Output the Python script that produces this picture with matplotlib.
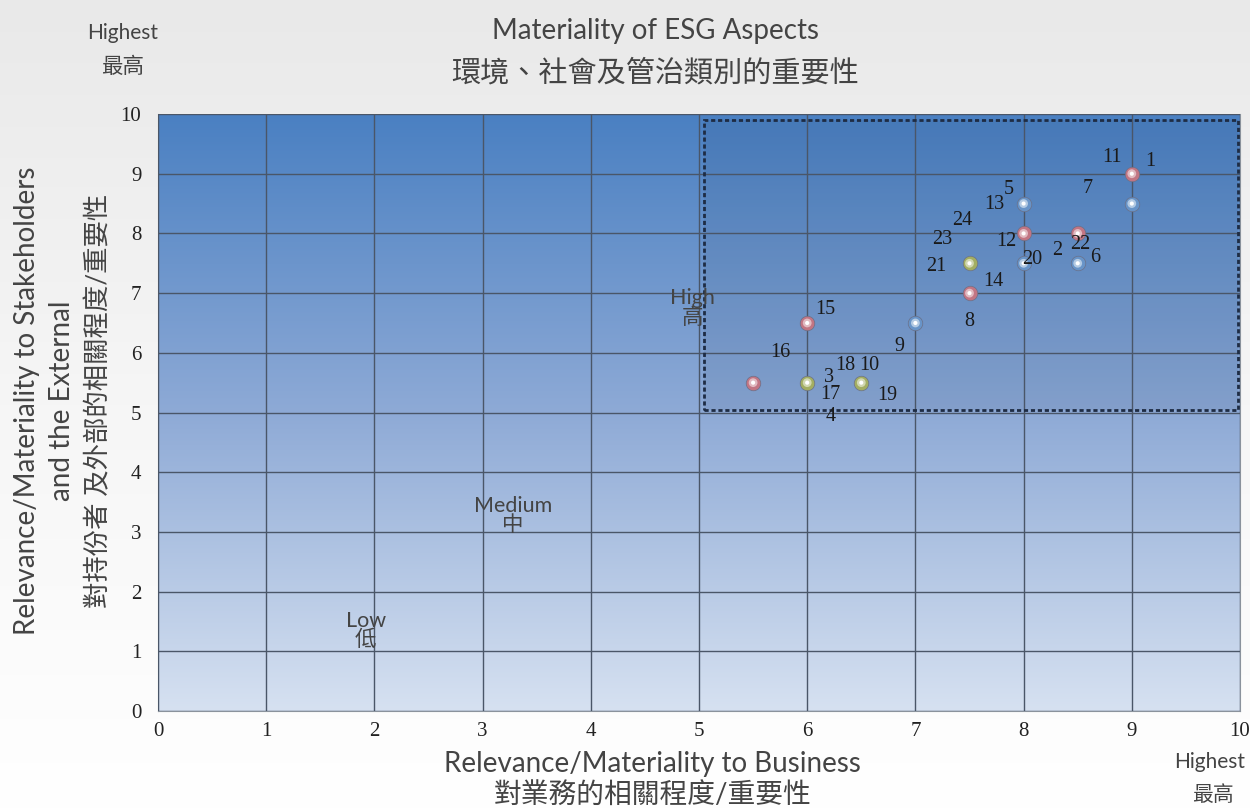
import numpy as np
import matplotlib.pyplot as plt
from matplotlib.colors import LinearSegmentedColormap, to_rgb
from matplotlib.patches import Rectangle

# ESG aspects: (business, stakeholders, colour group)
pt_x = [9, 9, 8, 8, 8.5, 8, 8.5, 7.5, 7.5, 7, 6, 5.5, 6, 6.5]
pt_y = [9, 8.5, 8.5, 8, 8, 7.5, 7.5, 7.5, 7, 6.5, 6.5, 5.5, 5.5, 5.5]
pt_group = ['r', 'b', 'b', 'r', 'r', 'b', 'b', 'g', 'r', 'b', 'r', 'r', 'g', 'g']

# aspect number labels and where they sit
lab_text = ['11', '1', '7', '5', '13', '24', '23', '12', '2', '22', '20', '6',
            '21', '14', '8', '15', '9', '16', '18', '10', '3', '17', '19', '4']
lab_x = [8.82, 9.17, 8.59, 7.86, 7.73, 7.43, 7.25, 7.84, 8.31, 8.52, 8.08, 8.66,
         7.19, 7.72, 7.50, 6.17, 6.85, 5.75, 6.35, 6.57, 6.20, 6.21, 6.74, 6.22]
lab_y = [9.28, 9.20, 8.76, 8.73, 8.48, 8.22, 7.89, 7.87, 7.72, 7.82, 7.57, 7.60,
         7.45, 7.19, 6.52, 6.72, 6.11, 6.01, 5.78, 5.78, 5.59, 5.31, 5.28, 4.94]

zone_text = ['High\n高', 'Medium\n中', 'Low\n低']
zone_x = [4.94, 3.28, 1.92]
zone_y = [6.75, 3.27, 1.35]
ticks = list(range(0, 11))

ring = {'r': '#c27583', 'b': '#6894c8', 'g': '#a3ae62'}

sans = ['Lato', 'Noto Sans CJK TC', 'DejaVu Sans']
serif = ['Liberation Serif', 'DejaVu Serif']
txt_col = '#444444'

fig = plt.figure(figsize=(12.5, 8.11), dpi=100)

# light grey page background
bg = fig.add_axes([0, 0, 1, 1])
bg.imshow(np.linspace(0, 1, 256).reshape(-1, 1), aspect='auto',
          cmap=LinearSegmentedColormap.from_list('bg', ['#e9e9e9', '#f6f6f6', '#ffffff']),
          extent=[0, 1, 0, 1])
bg.set_axis_off()

ax = fig.add_axes([0.1264, 0.1233, 0.8656, 0.7361])
grad = LinearSegmentedColormap.from_list('blu', ['#4a80c2', '#8eaad6', '#d6e1f1'])
ax.imshow(np.linspace(0, 1, 256).reshape(-1, 1), aspect='auto', cmap=grad,
          extent=[0, 10, 0, 10], zorder=0)
ax.set_xlim(0, 10)
ax.set_ylim(0, 10)

ax.set_xticks(ticks)
ax.set_yticks(ticks)
ax.set_xticklabels([str(t) for t in ticks], family=serif, fontsize=15, color='#222222')
ax.set_yticklabels([str(t) for t in ticks], family=serif, fontsize=15, color='#222222')
ax.grid(True, color='#4a5668', linewidth=1, zorder=1)
ax.set_axisbelow(False)
ax.tick_params(length=0)
ax.tick_params(axis='x', pad=8)
ax.tick_params(axis='y', pad=12)
for s in ax.spines.values():
    s.set_color('#8a929c')
ax.spines['top'].set_visible(False)

# "high" zone box
ax.add_patch(Rectangle((5.05, 5.05), 4.93, 4.85, facecolor='#10284a', alpha=0.08,
                       edgecolor='none', zorder=2))
ax.add_patch(Rectangle((5.05, 5.05), 4.93, 4.85, facecolor='none', edgecolor='#1e2c44',
                       linewidth=2.0, linestyle=(0, (1.5, 1)), zorder=3))

for x, y, g in zip(pt_x, pt_y, pt_group):
    pale = tuple(0.5 * c + 0.5 for c in to_rgb(ring[g]))
    ax.scatter(x, y, s=110, color=ring[g], edgecolors='#6a7088', linewidths=0.5, zorder=5)
    ax.scatter(x, y, s=40, color=pale, edgecolors='none', zorder=6)
    ax.scatter(x, y, s=9, color='white', edgecolors='none', zorder=7)

for t, x, y in zip(lab_text, lab_x, lab_y):
    ax.text(x, y, t, family=serif, fontsize=14.5, color='#1a1a1a',
            ha='center', va='center', zorder=8)

for t, x, y in zip(zone_text, zone_x, zone_y):
    ax.text(x, y, t, family=sans, fontsize=15.5, color=txt_col,
            ha='center', va='center', linespacing=0.95, zorder=8)

# titles and axis captions
fig.text(0.524, 0.962, 'Materiality of ESG Aspects', family=sans,
         fontsize=20, color=txt_col, ha='center', va='center')
fig.text(0.524, 0.911, '環境、社會及管治類別的重要性', family=sans,
         fontsize=21, color=txt_col, ha='center', va='center')
fig.text(0.522, 0.058, 'Relevance/Materiality to Business', family=sans,
         fontsize=20, color=txt_col, ha='center', va='center')
fig.text(0.522, 0.019, '對業務的相關程度/重要性', family=sans,
         fontsize=20, color=txt_col, ha='center', va='center')
fig.text(0.022, 0.506, 'Relevance/Materiality to Stakeholders', family=sans,
         fontsize=20, color=txt_col, ha='center', va='center', rotation=90)
fig.text(0.050, 0.506, 'and the External', family=sans,
         fontsize=20, color=txt_col, ha='center', va='center', rotation=90)
fig.text(0.079, 0.506, '對持份者 及外部的相關程度/重要性', family=sans,
         fontsize=19, color=txt_col, ha='center', va='center', rotation=90)

fig.text(0.098, 0.959, 'Highest', family=sans, fontsize=15,
         color=txt_col, ha='center', va='center')
fig.text(0.098, 0.917, '最高', family=sans, fontsize=15.5,
         color=txt_col, ha='center', va='center')
fig.text(0.968, 0.061, 'Highest', family=sans, fontsize=15,
         color=txt_col, ha='center', va='center')
fig.text(0.970, 0.020, '最高', family=sans, fontsize=15,
         color=txt_col, ha='center', va='center')

fig.savefig('out.png', dpi=100)
